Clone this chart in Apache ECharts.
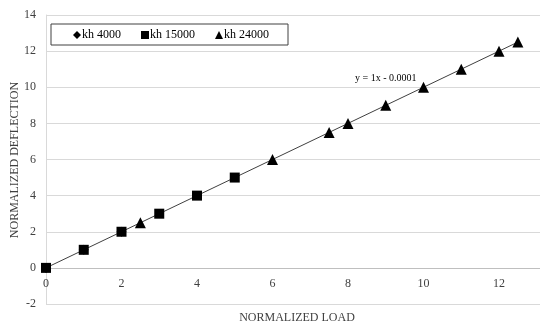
<!DOCTYPE html>
<html>
<head>
<meta charset="utf-8">
<script src="https://cdn.jsdelivr.net/npm/echarts@6/dist/echarts.min.js"></script>
<style>html,body{margin:0;padding:0;background:#fff}#c{width:540px;height:326px}</style>
</head>
<body>
<div id="c"></div>
<script>
const seriesNames = ['kh 4000', 'kh 15000', 'kh 24000'];
const kh4000 = [[0, 0], [1, 1], [2, 2]];
const kh15000 = [[0, 0], [1, 1], [2, 2], [3, 3], [4, 4], [5, 5]];
const kh24000 = [[2.5, 2.5], [6, 6], [7.5, 7.5], [8, 8], [9, 9], [10, 10], [11, 11], [12, 12], [12.5, 12.5]];
const trendLine = [[0, -0.0001], [12.5, 12.4999]];
const trendLabel = 'y = 1x - 0.0001';
const xTitle = 'NORMALIZED LOAD';
const yTitle = 'NORMALIZED DEFLECTION';

const font = 'Liberation Serif';
const chart = echarts.init(document.getElementById('c'));
chart.setOption({
  animation: false,
  backgroundColor: '#fff',
  grid: { left: 46, right: 0, top: 15, bottom: 22, containLabel: false },
  xAxis: {
    type: 'value', min: 0, max: 13.086, interval: 2,
    offset: -36,
    axisLine: { show: true, onZero: false, lineStyle: { color: '#bfbfbf', width: 1 } },
    axisTick: { show: false },
    splitLine: { show: false },
    axisLabel: { color: '#404040', fontFamily: font, fontSize: 12, margin: 10, showMaxLabel: false }
  },
  yAxis: {
    type: 'value', min: -2, max: 14, interval: 2,
    axisLine: { show: true, onZero: false, lineStyle: { color: '#d9d9d9', width: 1 } },
    axisTick: { show: false },
    splitLine: { show: true, lineStyle: { color: '#d9d9d9', width: 1 } },
    axisLabel: { color: '#404040', fontFamily: font, fontSize: 12, margin: 10 }
  },
  legend: {
    left: 51, top: 24, width: 236,
    padding: [5, 19, 4, 22],
    itemGap: 20,
    itemWidth: 8, itemHeight: 8,
    borderColor: '#404040', borderWidth: 1, backgroundColor: '#fff',
    textStyle: { fontFamily: font, fontSize: 12, color: '#000', padding: [0, 0, 0, -4] },
    data: [
      { name: seriesNames[0], icon: 'diamond' },
      { name: seriesNames[1], icon: 'rect' },
      { name: seriesNames[2], icon: 'triangle' }
    ]
  },
  series: [
    { name: 'trend', type: 'line', data: trendLine, symbol: 'none', z: 1,
      lineStyle: { color: '#404040', width: 1 }, silent: true },
    { name: seriesNames[0], type: 'scatter', data: kh4000, symbol: 'diamond', symbolSize: 10,
      itemStyle: { color: '#000', opacity: 1 }, z: 2 },
    { name: seriesNames[1], type: 'scatter', data: kh15000, symbol: 'rect', symbolSize: 10,
      itemStyle: { color: '#000', opacity: 1 }, z: 3 },
    { name: seriesNames[2], type: 'scatter', data: kh24000, symbol: 'triangle', symbolSize: 11,
      itemStyle: { color: '#000', opacity: 1 }, z: 3 }
  ],
  graphic: [
    { type: 'text', x: 355, y: 78, style: { text: trendLabel, font: '10px "' + font + '"', fill: '#000', verticalAlign: 'middle' } },
    { type: 'text', x: 297, y: 318, style: { text: xTitle, font: '12px "' + font + '"', fill: '#404040', align: 'center', verticalAlign: 'middle' } },
    { type: 'text', x: 15, y: 160, rotation: Math.PI / 2,
      style: { text: yTitle, font: '12px "' + font + '"', fill: '#404040', align: 'center', verticalAlign: 'middle' } }
  ]
});
</script>
</body>
</html>
